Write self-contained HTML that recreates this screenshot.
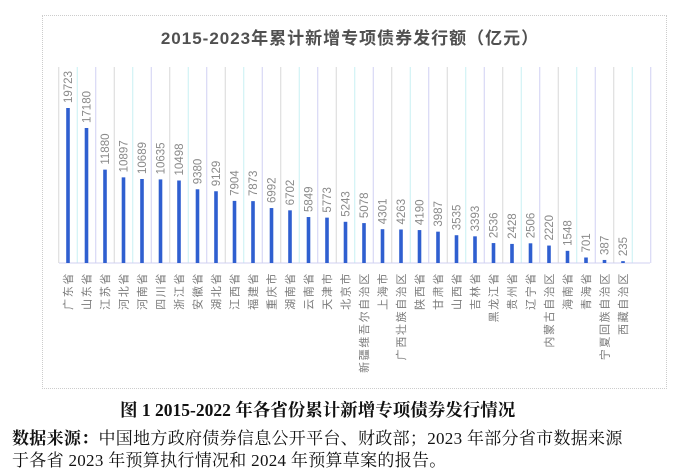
<!DOCTYPE html>
<html><head><meta charset="utf-8"><style>
body{margin:0;width:700px;height:476px;background:#fff;overflow:hidden;position:relative;font-family:"Liberation Sans","Noto Sans CJK SC",sans-serif}
.box{position:absolute;left:42px;top:15px;width:623px;height:372px;border:1px dotted #ccc;background:#fff}
.cap{position:absolute;left:120px;white-space:nowrap;top:397px;font:bold 17.5px "Liberation Serif","Noto Serif CJK SC",serif;color:#111}
.t{position:absolute;left:12px;font:17px "Liberation Serif","Noto Serif CJK SC",serif;color:#111;letter-spacing:0.3px;white-space:nowrap}
</style></head><body>
<div class="box"></div>
<svg width="700" height="476" style="position:absolute;left:0;top:0">
<text x="350" y="44" text-anchor="middle" font-size="17" font-weight="bold" fill="#505050" letter-spacing="1" font-family="Liberation Sans,Noto Sans CJK SC,sans-serif">2015-2023年累计新增专项债券发行额（亿元）</text>
<g id="g"></g>
</svg>
<div class="cap">图 1 2015-2022 年各省份累计新增专项债券发行情况</div>
<div class="t" style="top:424px"><b>数据来源：</b>中国地方政府债券信息公开平台、财政部；2023 年部分省市数据来源</div>
<div class="t" style="top:446px">于各省 2023 年预算执行情况和 2024 年预算草案的报告。</div>
<script>
var d=[["广东省",19723],["山东省",17180],["江苏省",11880],["河北省",10897],["河南省",10689],["四川省",10635],["浙江省",10498],["安徽省",9380],["湖北省",9129],["江西省",7904],["福建省",7873],["重庆市",6992],["湖南省",6702],["云南省",5849],["天津市",5773],["北京市",5243],["新疆维吾尔自治区",5078],["上海市",4301],["广西壮族自治区",4263],["陕西省",4190],["甘肃省",3987],["山西省",3535],["吉林省",3393],["黑龙江省",2536],["贵州省",2428],["辽宁省",2506],["内蒙古自治区",2220],["海南省",1548],["青海省",701],["宁夏回族自治区",387],["西藏自治区",235]];
var s='',base=263,k=155/19723,w=18.5,x0=68;
var cols=['#d8d8d8','#c8f0f4','#d0d0f4'];
for(var i=0;i<=32;i++){var lx=x0-w/2+i*w;s+='<line x1="'+lx+'" y1="67" x2="'+lx+'" y2="'+base+'" stroke="'+cols[i%3]+'" stroke-width="1"/>';}
s+='<line x1="59" y1="'+base+'" x2="650" y2="'+base+'" stroke="#d0d0f0" stroke-width="1"/>';
d.forEach(function(e,i){var x=x0+i*w,h=e[1]*k,y=base-h;
s+='<rect x="'+(x-1.8)+'" y="'+y+'" width="3.6" height="'+h+'" fill="#2f5fd0"/>';
s+='<text transform="translate('+(x+4)+','+(y-5)+') rotate(-90)" font-size="11.5" fill="#8a8a8a" font-family="Liberation Sans,sans-serif">'+e[1]+'</text>';
s+='<text transform="translate('+(x+4)+',272) rotate(-90)" text-anchor="end" font-size="11" letter-spacing="1.6" fill="#7a7a7a" font-family="Liberation Sans,Noto Sans CJK SC,sans-serif">'+e[0]+'</text>';});
document.getElementById('g').innerHTML=s;
</script>
</body></html>
